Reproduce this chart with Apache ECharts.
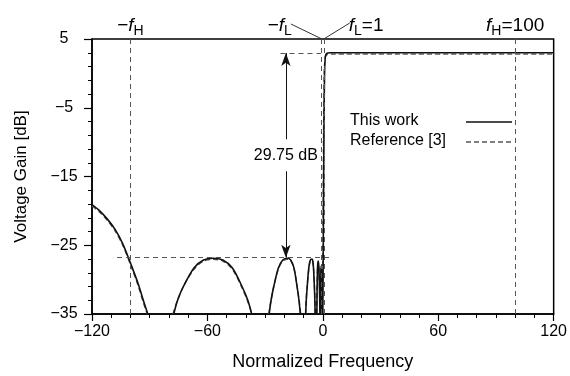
<!DOCTYPE html>
<html>
<head>
<meta charset="utf-8">
<script src="https://cdn.jsdelivr.net/npm/echarts@6/dist/echarts.min.js"></script>
<style>
  html, body { margin: 0; padding: 0; background: #fff; }
  #chart { width: 570px; height: 376px; }
</style>
</head>
<body>
<div id="chart"></div>
<script>
// axis ranges (normalized frequency, dB)
const xRange = [-120, 120];
const yRange = [-35, 5];

// "This work" curve, one array per lobe
const workLobeA = [[-120, -19.1], [-116, -20.0], [-112, -21.2], [-108, -22.7], [-104, -24.8], [-100, -27.6], [-96, -30.6], [-93, -33.3], [-91, -35]];
const workLobeB = [[-77.5, -35], [-75.5, -33.0], [-72.5, -31.0], [-67, -28.3], [-62, -27.15], [-57, -26.9], [-52, -27.15], [-47, -28.3], [-42, -31.0], [-39, -33.0], [-37, -35]];
const workLobeC = [[-27.9, -35], [-26.9, -33.0], [-25.5, -31.0], [-23.1, -28.3], [-20.8, -27.15], [-18.4, -26.9], [-16.7, -27.15], [-15.0, -28.3], [-13.4, -31.0], [-12.4, -33.0], [-11.7, -35]];
const workLobeD = [[-8.9, -35], [-8.6, -33.0], [-8.1, -31.0], [-7.3, -28.3], [-6.5, -27.15], [-5.7, -27.0], [-5.3, -27.15], [-4.85, -28.3], [-4.4, -31.0], [-4.15, -33.0], [-4.0, -35]];
const workLobeE = [[-3.1, -35], [-2.95, -31.0], [-2.7, -28.0], [-2.4, -27.3], [-2.1, -28.0], [-1.75, -31.0], [-1.5, -35]];
const workLobeF = [[-1.2, -35], [-1.0, -29.0], [-0.85, -28.0], [-0.7, -29.0], [-0.5, -35]];
const workPass = [[0, -35], [0.3, -22], [0.6, -8], [0.9, 0], [1.3, 2.4], [2, 2.9], [4, 3.0], [120, 3.0]];

// "Reference [3]" curve
const refLobeA = [[-120, -19.3], [-116, -20.2], [-112, -21.4], [-108, -22.9], [-104, -25.0], [-100, -27.8], [-96, -30.9], [-93, -33.6], [-91.3, -35]];
const refLobeB = [[-77.9, -35], [-75.7, -33.1], [-72.7, -31.1], [-67, -28.5], [-62, -27.3], [-57, -27.05], [-52, -27.3], [-47, -28.5], [-42, -31.2], [-39, -33.2], [-36.8, -35]];
const refLobeC = [[-28.1, -35], [-27.0, -33.1], [-25.6, -31.1], [-23.2, -28.5], [-20.8, -27.3], [-18.4, -27.05], [-16.6, -27.3], [-14.9, -28.5], [-13.3, -31.1], [-12.3, -33.1], [-11.5, -35]];
const refLobeD = [[-9.0, -35], [-8.7, -33.1], [-8.2, -31.1], [-7.3, -28.5], [-6.5, -27.3], [-5.7, -27.15], [-5.3, -27.3], [-4.8, -28.5], [-4.35, -31.1], [-4.1, -33.1], [-3.9, -35]];
const refLobeE = [[-3.2, -35], [-3.0, -31.1], [-2.75, -28.2], [-2.4, -27.5], [-2.05, -28.2], [-1.7, -31.1], [-1.45, -35]];
const refLobeF = [[-1.25, -35], [-1.05, -29.2], [-0.85, -28.2], [-0.65, -29.2], [-0.45, -35]];
const refPass = [[-0.2, -35], [0.1, -22], [0.4, -8], [0.75, 0], [1.2, 2.3], [2, 2.7], [4, 2.8], [120, 2.8]];

// guide lines and the 29.75 dB marker
const cutoffX = [-100, -1, 1, 100];
const passLevel = 2.95;
const stopLevel = -26.8;
const topGuideX = [-22, -1];
const bottomGuideX = [-107, 4.5];
const arrowX = -19.2;
const gainLabel = "29.75 dB";

const FONT = "'Liberation Sans', Arial, sans-serif";

function withGaps(segments) {
  const out = [];
  segments.forEach((seg, i) => {
    if (i > 0) out.push([seg[0][0], "-"]);
    seg.forEach((p) => out.push(p));
  });
  return out;
}

const minus = (v) => String(v).replace("-", "\u2212");

const chart = echarts.init(document.getElementById("chart"), null, { renderer: "canvas" });

chart.setOption({
  animation: false,
  grid: {
    left: 92, right: 12, top: 39, bottom: 60,
    show: true, borderColor: "#000", borderWidth: 1.5, backgroundColor: "transparent",
  },
  xAxis: {
    type: "value",
    min: xRange[0], max: xRange[1], interval: 60,
    name: "Normalized Frequency",
    nameLocation: "middle",
    nameGap: 39,
    nameTextStyle: { color: "#000", fontFamily: FONT, fontSize: 18 },
    axisLine: { onZero: false, lineStyle: { color: "#000", width: 1.5 } },
    axisTick: { show: true, inside: false, length: 7, lineStyle: { color: "#000", width: 1.2 } },
    minorTick: { show: true, splitNumber: 6, length: 4, lineStyle: { color: "#000", width: 1 } },
    splitLine: { show: false },
    axisLabel: { color: "#000", fontFamily: FONT, fontSize: 16, margin: 10, formatter: minus },
  },
  yAxis: {
    type: "value",
    min: yRange[0], max: yRange[1], interval: 10,
    name: "Voltage Gain [dB]",
    nameLocation: "middle",
    nameGap: 62,
    nameTextStyle: { color: "#000", fontFamily: FONT, fontSize: 17 },
    axisLine: { onZero: false, lineStyle: { color: "#000", width: 1.5 } },
    axisTick: { show: true, inside: false, length: 8, lineStyle: { color: "#000", width: 1.2 } },
    minorTick: { show: true, splitNumber: 5, length: 4, lineStyle: { color: "#000", width: 1 } },
    splitLine: { show: false },
    axisLabel: { color: "#000", fontFamily: FONT, fontSize: 16, align: "center", margin: 28, formatter: minus },
  },
  series: [
    {
      name: "Reference [3]",
      type: "line",
      data: withGaps([refLobeA, refLobeB, refLobeC, refLobeD, refLobeE, refLobeF, refPass]),
      showSymbol: false, symbol: "none",
      smooth: 0.3,
      connectNulls: false,
      lineStyle: { color: "#555", width: 1.4, type: [5, 3] },
      z: 2,
      markLine: {
        silent: true, symbol: "none",
        label: { show: false },
        lineStyle: { color: "#555", width: 1, type: [5, 4] },
        data: [
          ...cutoffX.map((x) => ({ xAxis: x })),
          [{ coord: [topGuideX[0], passLevel] }, { coord: [topGuideX[1], passLevel] }],
          [{ coord: [bottomGuideX[0], stopLevel] }, { coord: [bottomGuideX[1], stopLevel] }],
        ],
      },
    },
    {
      name: "This work",
      type: "line",
      data: withGaps([workLobeA, workLobeB, workLobeC, workLobeD, workLobeE, workLobeF, workPass]),
      showSymbol: false, symbol: "none",
      smooth: 0.3,
      connectNulls: false,
      lineStyle: { color: "#111", width: 1.6 },
      z: 3,
      markLine: {
        silent: true,
        symbol: ["arrow", "arrow"],
        symbolSize: [7, 13],
        label: { show: false },
        lineStyle: { color: "#111", width: 1, type: "solid" },
        data: [[{ coord: [arrowX, passLevel] }, { coord: [arrowX, stopLevel] }]],
      },
    },
  ],
});

// annotations placed through the chart's own scale
const px = (x, y) => chart.convertToPixel({ gridIndex: 0 }, [x, y]);
const plotTop = px(0, yRange[1])[1];
const rich = {
  f: { fontFamily: FONT, fontSize: 19, fontStyle: "italic", fill: "#000" },
  n: { fontFamily: FONT, fontSize: 19, fill: "#000" },
  s: { fontFamily: FONT, fontSize: 14, fill: "#000", padding: [10, 0, 0, 0] },
};
const label = (x, y, text, align) => ({
  type: "text", x, y, z: 20,
  style: { text, rich, align: align || "center", verticalAlign: "middle", fill: "#000" },
});
const fLm = px(-1, 0)[0];
const fLp = px(1, 0)[0];
const mid = px(arrowX, (passLevel + stopLevel) / 2);
const legendLeft = 350;

chart.setOption({
  graphic: [
    label(px(-100, 0)[0], plotTop - 13, "{n|\u2212}{f|f}{s|H}"),
    label(fLm - 29, plotTop - 13, "{n|\u2212}{f|f}{s|L}", "right"),
    label(fLp + 24, plotTop - 13, "{f|f}{s|L}{n|=1}", "left"),
    label(px(100, 0)[0], plotTop - 13, "{f|f}{s|H}{n|=100}"),
    { type: "line", z: 20, shape: { x1: fLm - 30, y1: plotTop - 15, x2: fLm + 1, y2: plotTop }, style: { stroke: "#333", lineWidth: 1 } },
    { type: "line", z: 20, shape: { x1: fLp - 1, y1: plotTop, x2: fLp + 25, y2: plotTop - 16 }, style: { stroke: "#333", lineWidth: 1 } },
    {
      type: "text", x: mid[0], y: mid[1], z: 20,
      style: {
        text: gainLabel, fontFamily: FONT, fontSize: 16, fill: "#000",
        align: "center", verticalAlign: "middle",
        backgroundColor: "#fff", padding: [8, 2],
      },
    },
    { type: "text", x: legendLeft, y: 121, z: 20, style: { text: "This work", fontFamily: FONT, fontSize: 16, fill: "#000", verticalAlign: "middle" } },
    { type: "text", x: legendLeft, y: 141, z: 20, style: { text: "Reference [3]", fontFamily: FONT, fontSize: 16, fill: "#000", verticalAlign: "middle" } },
    { type: "line", z: 20, shape: { x1: 466, y1: 122, x2: 512, y2: 122 }, style: { stroke: "#111", lineWidth: 1.6 } },
    { type: "line", z: 20, shape: { x1: 466, y1: 142, x2: 512, y2: 142 }, style: { stroke: "#555", lineWidth: 1.4, lineDash: [5, 3] } },
  ],
});
</script>
</body>
</html>
